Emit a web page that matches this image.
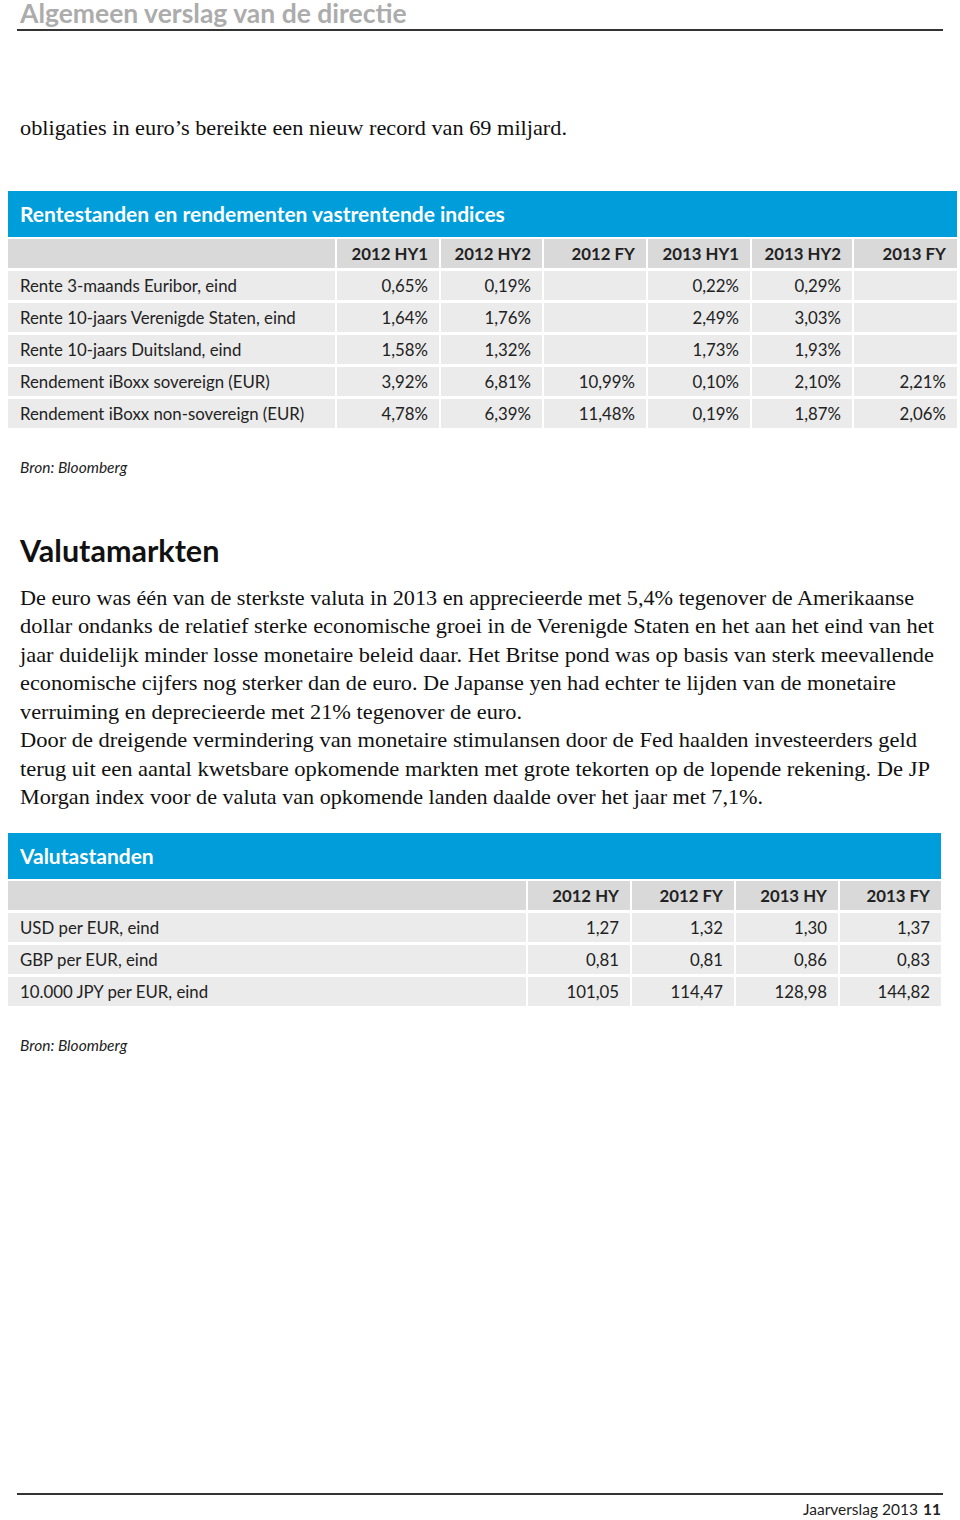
<!DOCTYPE html>
<html>
<head>
<meta charset="utf-8">
<script src="https://cdn.jsdelivr.net/npm/chart.js@4/dist/chart.umd.min.js"></script>
<style>
  html, body { margin: 0; padding: 0; background: #fff; }
  body { width: 960px; height: 1520px; position: relative; overflow: hidden; font-family: Lato, "Open Sans", sans-serif; color: #222; }
  .abs { position: absolute; white-space: nowrap; }
  .rule { position: absolute; left: 17px; width: 926px; height: 2px; background: #333; }
  .band { position: absolute; background: #009ddb; color: #fff; font-weight: 700; font-size: 21px; }
  .cell { position: absolute; box-sizing: border-box; font-size: 16.8px; line-height: 29px; padding: 0 11px 0 12px; }
  .hdr { background: #d9d9d9; font-weight: 700; text-align: right; }
  .row { background: #ebebeb; }
  .num { text-align: right; }
  .serif { font-family: "Liberation Serif", "DejaVu Serif", serif; font-size: 21px; color: #111; }
  .src { font-style: italic; font-size: 15.5px; color: #222; }
</style>
</head>
<body>
<div class="abs" style="left:20px; top:0px; line-height:1; font-size:26.5px; font-weight:700; color:#acacac;">Algemeen verslag van de directie</div>
<div class="rule" style="top:29px;"></div>

<div id="intro" class="abs serif" style="left:20px; top:116px;">obligaties in euro’s bereikte een nieuw record van 69 miljard.</div>

<div id="t1"></div>
<div class="abs src" style="left:20px; top:458px;">Bron: Bloomberg</div>

<div class="abs" style="left:20px; top:532px; font-size:30.5px; font-weight:700; color:#111;">Valutamarkten</div>
<div id="para"></div>

<div id="t2"></div>
<div class="abs src" style="left:20px; top:1036px;">Bron: Bloomberg</div>

<div class="rule" style="top:1493px; height:1.5px;"></div>
<div class="abs" style="left:803px; top:1500px; font-size:15.5px; color:#222;">Jaarverslag 2013</div>
<div class="abs" style="left:923px; top:1500px; font-size:15.5px; font-weight:700; color:#222;">11</div>

<script>
// Tabel 1: rentestanden en rendementen
const rateTitle = 'Rentestanden en rendementen vastrentende indices';
const rateColumns = ['2012 HY1', '2012 HY2', '2012 FY', '2013 HY1', '2013 HY2', '2013 FY'];
const rateRows = [
  'Rente 3-maands Euribor, eind',
  'Rente 10-jaars Verenigde Staten, eind',
  'Rente 10-jaars Duitsland, eind',
  'Rendement iBoxx sovereign (EUR)',
  'Rendement iBoxx non-sovereign (EUR)'
];
const euribor3m = [0.65, 0.19, null, 0.22, 0.29, null];
const us10y = [1.64, 1.76, null, 2.49, 3.03, null];
const de10y = [1.58, 1.32, null, 1.73, 1.93, null];
const iboxxSov = [3.92, 6.81, 10.99, 0.10, 2.10, 2.21];
const iboxxNonSov = [4.78, 6.39, 11.48, 0.19, 1.87, 2.06];

// Tabel 2: valutastanden
const fxTitle = 'Valutastanden';
const fxColumns = ['2012 HY', '2012 FY', '2013 HY', '2013 FY'];
const fxRows = ['USD per EUR, eind', 'GBP per EUR, eind', '10.000 JPY per EUR, eind'];
const usdEur = [1.27, 1.32, 1.30, 1.37];
const gbpEur = [0.81, 0.81, 0.86, 0.83];
const jpyEur = [101.05, 114.47, 128.98, 144.82];

const paragraph = [
  'De euro was één van de sterkste valuta in 2013 en apprecieerde met 5,4% tegenover de Amerikaanse',
  'dollar ondanks de relatief sterke economische groei in de Verenigde Staten en het aan het eind van het',
  'jaar duidelijk minder losse monetaire beleid daar. Het Britse pond was op basis van sterk meevallende',
  'economische cijfers nog sterker dan de euro. De Japanse yen had echter te lijden van de monetaire',
  'verruiming en deprecieerde met 21% tegenover de euro.',
  'Door de dreigende vermindering van monetaire stimulansen door de Fed haalden investeerders geld',
  'terug uit een aantal kwetsbare opkomende markten met grote tekorten op de lopende rekening. De JP',
  'Morgan index voor de valuta van opkomende landen daalde over het jaar met 7,1%.'
];
const paraRight = [914, 934, 934, 896, 522, 917, 930, 763];

const fmt = (v, suffix) => v == null ? '' : v.toFixed(2).replace('.', ',') + suffix;

function el(parent, cls, text, x, y, w, h) {
  const d = document.createElement('div');
  d.className = cls;
  d.textContent = text;
  Object.assign(d.style, { left: x + 'px', top: y + 'px', width: w + 'px', height: h + 'px' });
  parent.appendChild(d);
  return d;
}

function drawTable(host, title, columns, rows, series, suffix, layout) {
  const band = el(host, 'band', title, layout.left, layout.top, layout.right - layout.left, 46);
  band.style.padding = '0 0 0 12px';
  band.style.lineHeight = '46px';
  band.style.boxSizing = 'border-box';
  const edges = layout.edges; // x of column borders
  const hy = layout.top + 48;
  el(host, 'cell hdr', '', layout.left, hy, edges[0] - layout.left, 29);
  columns.forEach((c, i) => {
    el(host, 'cell hdr', c, edges[i] + 2, hy, edges[i + 1] - edges[i] - 2, 29);
  });
  rows.forEach((r, j) => {
    const y = hy + 32 * (j + 1);
    el(host, 'cell row', r, layout.left, y, edges[0] - layout.left, 29);
    series[j].forEach((v, i) => {
      el(host, 'cell row num', fmt(v, suffix), edges[i] + 2, y, edges[i + 1] - edges[i] - 2, 29);
    });
  });
}

drawTable(document.getElementById('t1'), rateTitle, rateColumns, rateRows,
  [euribor3m, us10y, de10y, iboxxSov, iboxxNonSov], '%',
  { left: 8, right: 957, top: 191, edges: [335, 439, 542, 646, 750, 852, 957] });

drawTable(document.getElementById('t2'), fxTitle, fxColumns, fxRows,
  [usdEur, gbpEur, jpyEur], '',
  { left: 8, right: 941, top: 833, edges: [526, 630, 734, 838, 941] });

// lopende tekst, regel voor regel op breedte gebracht
const para = document.getElementById('para');
paragraph.forEach((line, i) => {
  const d = document.createElement('div');
  d.className = 'abs serif';
  d.textContent = line;
  d.style.left = '20px';
  d.style.top = (586 + i * 28.45) + 'px';
  d.style.transformOrigin = '0 0';
  para.appendChild(d);
  const w = d.getBoundingClientRect().width;
  d.style.transform = 'scaleX(' + ((paraRight[i] - 20) / w) + ')';
});
const intro = document.getElementById('intro');
intro.style.transformOrigin = '0 0';
intro.style.transform = 'scaleX(' + (547 / intro.getBoundingClientRect().width) + ')';
</script>
</body>
</html>
